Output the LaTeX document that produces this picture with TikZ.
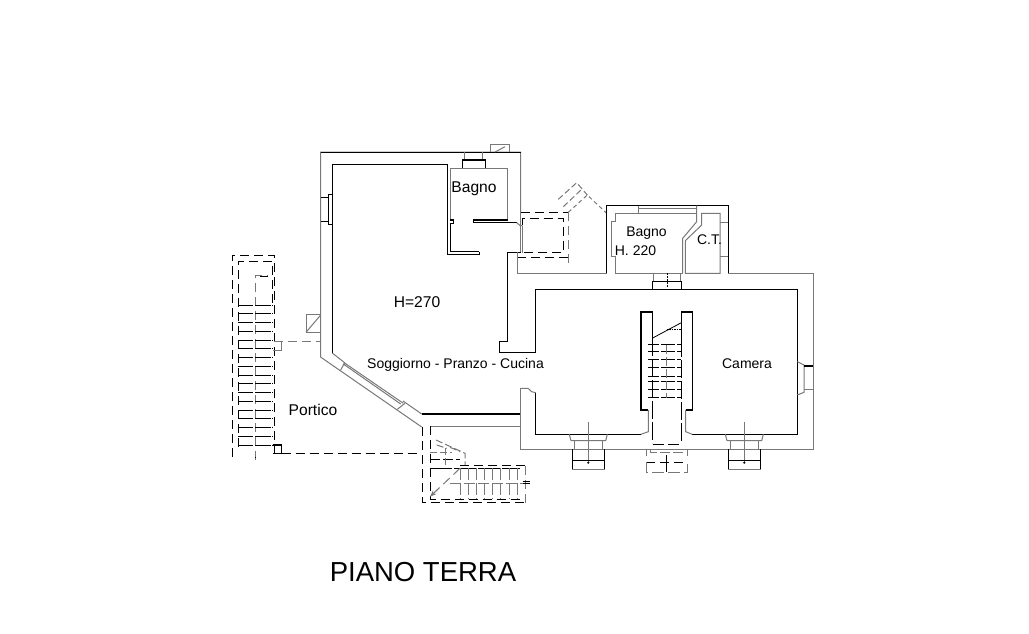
\documentclass[tikz,border=0pt]{standalone}
\usepackage{fontspec}
\setmainfont{Liberation Sans}
\usetikzlibrary{arrows.meta}
\definecolor{wallgray}{RGB}{120,120,120}
\tikzset{
  wallblack/.style={black, line width=1.25pt},
  wallthin/.style={wallgray, line width=1pt},
  hidden/.style={black, line width=0.9pt, dash pattern=on 9pt off 5pt},
  hiddenthin/.style={wallgray, line width=1pt, dash pattern=on 9pt off 5pt},
  roomlabel/.style={font=\fontsize{14}{16}\selectfont, black, inner sep=0pt},
  roomlarge/.style={font=\fontsize{15.6}{18}\selectfont, black, inner sep=0pt}
}
\begin{document}
\begin{tikzpicture}[x=1pt, y=-1pt, >=Stealth]
    \useasboundingbox (0,0) rectangle (1029,634);
    \fill[white] (0,0) rectangle (1029,634);

    % Outer wall, living room
    \draw[wallthin] (520.5,212) -- (520.5,152) -- (320.5,152) -- (320.5,357) -- (421.7,427);
    \draw[black, line width=1pt] (320.5,152) -- (520.5,152);

    % Inner wall, living room
    \draw[wallblack] (535.7,289.3) -- (535.7,352.7) -- (499.7,352.7) -- (499.7,341.7) -- (507.5,341.7) -- (507.5,252.3) -- (520.7,252.3);
    \draw[wallblack] (479.3,251.7) -- (479.3,254.3) -- (447.3,254.3) -- (447.3,164.3) -- (332.3,164.3) -- (332.3,353);
    \draw[wallthin] (332.3,353) -- (345,363);
    \draw[wallblack] (421.7,414) -- (520.3,414);
    \draw[wallthin] (403,401) -- (421.7,414);

    % Bagno, north
    \draw[wallthin] (507.7,220) -- (507.7,168.3) -- (450.3,168.3) -- (450.3,220);
    \draw[wallblack] (507.7,220) -- (473.3,220) -- (473.3,222.7) -- (516.7,222.7);
    \draw[wallthin] (516.7,222.7) -- (520,225.5) -- (522.3,225.5);
    \draw[wallblack] (450.3,220) -- (453.3,220) -- (453.3,223.3) -- (450.3,223.3) -- (450.3,251.7) -- (479.3,251.7);
    \draw[wallthin] (464.3,160) -- (464.3,152);
    \draw[wallthin] (482.7,160) -- (482.7,152);
    \draw[wallblack] (462.3,168.3) -- (462.3,160) -- (485.3,160) -- (485.3,168.3);
    \draw[wallthin] (490.3,152) -- (490.3,144.3) -- (509.7,144.3) -- (509.7,152);
    \draw[wallthin] (495,152) -- (505,146.7);

    % Window, west wall
    \draw[wallblack] (320.5,197.3) -- (328.3,197.3);
    \draw[wallblack] (320.5,221.7) -- (328.3,221.7);
    \draw[wallblack] (332.3,194.3) -- (328.3,194.3) -- (328.3,224.3) -- (332.3,224.3);

    % Diagonal window
    \draw[wallthin] (345,363) -- (344.7,365);
    \draw[wallthin] (340.7,370) -- (344.3,363.3);
    \draw[wallthin] (343.3,364) -- (400.7,404);
    \draw[wallthin] (345,363.3) -- (403.3,403.3);
    \draw[wallthin] (397.3,409.3) -- (405,403.3);

    % Shaft, west wall
    \draw[wallthin] (320.7,314.3) -- (306,314.3) -- (306,332.3) -- (320.7,332.3);
    \draw[wallthin] (306,332.3) -- (320.7,315);

    % Small porch, dashed
    \draw[hidden] (520.7,212.3) -- (568.3,212.3);
    \draw[hiddenthin] (568.3,212.3) -- (568.3,263);
    \draw[hidden] (522.3,225) -- (522.3,218.3) -- (563.3,218.3) -- (563.3,252.7) -- (522.3,252.7);
    \draw[hidden] (517.3,257.3) -- (568.3,257.3);
    \draw[wallthin] (522.3,225.5) -- (522.3,252.7);
    \draw[wallthin] (520.7,212.3) -- (520.7,252.3);

    % Steps, north east of the porch
    \draw[hiddenthin, dash pattern=on 4pt off 3pt] (568.3,212.3) -- (587.3,195) -- (606.7,213.3);
    \draw[hiddenthin, dash pattern=on 6pt off 3pt] (558.3,199.3) -- (576.7,182.7) -- (587.3,195);
    \draw[hiddenthin, dash pattern=on 6pt off 3pt] (563.3,206.7) -- (581.7,189.3);

    % North annex
    \draw[wallthin] (517.3,252.3) -- (517.3,273.3) -- (606.7,273.3);
    \draw[black, line width=1pt] (606.7,273.3) -- (606.7,205.7) -- (728.3,205.7) -- (728.3,273.3);
    \draw[wallthin] (728.3,273.3) -- (813.3,273.3) -- (813.3,449) -- (520.3,449) -- (520.3,388.3);
    \draw[wallthin] (638.3,205.7) -- (638.3,213.3);
    \draw[wallthin] (696.7,205.7) -- (696.7,221.7) -- (682.7,238.3) -- (682.7,273.3);
    \draw[wallthin] (638.3,208.3) -- (696.7,208.3);
    \draw[wallthin] (682.7,273.3) -- (615.3,273.3) -- (615.3,256.7) -- (611.7,256.7) -- (611.7,221.7) -- (615.3,221.7) -- (615.3,213.3) -- (696.7,213.3);
    \draw[wallthin] (701.7,213.3) -- (701.7,225) -- (685.3,240.7) -- (685.3,273.3) -- (720,273.3) -- (720,213.3) -- cycle;
    \draw[wallthin] (720,222.3) -- (728.3,222.3);
    \draw[wallthin] (720,256.7) -- (728.3,256.7);

    % Window between annex and room
    \draw[wallthin] (653.3,273.3) -- (653.3,281.7);
    \draw[wallthin] (680.7,273.3) -- (680.7,281.7);
    \draw[wallblack] (652.7,289.3) -- (652.7,281.7) -- (681.7,281.7) -- (681.7,289.3);
    \draw[black, line width=0.8pt, dash pattern=on 2pt off 1pt] (667.7,273.3) -- (667.7,288.3);

    % Camera
    \draw[wallblack] (535.7,289.3) -- (797.3,289.3) -- (797.3,434.3) -- (692.3,434.3);
    \draw[wallthin] (692.3,434.3) -- (685.7,431.7) -- (685.7,410);
    \draw[wallblack] (685.7,410) -- (692.3,410) -- (692.3,312) -- (681.3,312) -- (681.3,338);
    \draw[wallblack] (652.7,338) -- (652.7,312) -- (641,312) -- (641,410) -- (648.3,410);
    \draw[wallthin] (648.3,410) -- (648.3,431.7) -- (641,434.3);
    \draw[wallblack] (641,434.3) -- (535.7,434.3) -- (535.7,392.7);
    \draw[wallthin] (535.7,392.7) -- (531.7,391.7) -- (528,388.3) -- (520.3,388.3);
    \draw[wallthin] (520.3,426) -- (430,426);

    % Window, east wall
    \draw[wallthin] (797.3,361.7) -- (804,365) -- (804,392.3) -- (797.3,395);
    \draw[wallblack] (804,366) -- (813.3,366);
    \draw[wallthin] (804,389.3) -- (813.3,389.3);

    % South windows
    \foreach \dx in {0,156}{
        \draw[wallthin, shift={(\dx,0)}] (569.3,434.3) -- (571,440.7) -- (605.7,440.7) -- (607.3,434.3);
        \draw[wallthin, shift={(\dx,0)}] (574.3,440.7) -- (574.3,449);
        \draw[wallthin, shift={(\dx,0)}] (602.3,440.7) -- (602.3,449);
        \draw[wallthin, shift={(\dx,0)}] (588.3,422.3) -- (588.3,463);
        \draw[wallthin, shift={(\dx,0)}] (572.3,469.3) rectangle (604.3,449);
        \draw[black, line width=1pt, shift={(\dx,0)}] (572.3,449) -- (572.3,469.3);
        \draw[black, line width=1pt, shift={(\dx,0)}] (604.3,449) -- (604.3,469.3);
        \draw[black, line width=1pt, shift={(\dx,0)}] (572.3,460) -- (604.3,460);
        \fill[black, shift={(\dx,0)}] (588.3,462.7) circle (1.2pt);
    }

    % Inner stair, Camera
    \draw[black, line width=0.8pt] (652.7,338) -- (681.3,322.7);
    \draw[black, line width=0.8pt, dash pattern=on 1.5pt off 1pt] (666.7,329.3) -- (681.3,329.3);
    \foreach \ty in {344,351.7,359.3,367.7,376,381,389.3,397.3}{
        \draw[hidden, dash pattern=on 11pt off 2pt on 14pt off 2pt] (648.3,\ty) -- (681.3,\ty);
    }
    \draw[wallblack, dash pattern=on 26pt off 3pt] (681.3,331) -- (681.3,360);
    \draw[hidden, dash pattern=on 18pt off 3pt] (681.3,360) -- (681.3,443);
    \draw[hidden, dash pattern=on 18pt off 3pt] (652.7,338) -- (652.7,443);
    \draw[hiddenthin, dash pattern=on 9pt off 3pt] (666.7,345) -- (666.7,398);
    \draw[hidden, dash pattern=on 11pt off 4pt] (652.7,444.7) -- (681.3,444.7);
    \draw[hiddenthin, dash pattern=on 10pt off 3pt] (650,449) -- (650,452) -- (683.3,452) -- (683.3,449);
    \draw[hiddenthin, dash pattern=on 6pt off 3pt] (646.3,450) -- (646.3,457);
    \draw[hiddenthin, dash pattern=on 6pt off 3pt] (687.7,450) -- (687.7,457);
    \draw[hidden] (646.3,462.3) -- (687.7,462.3);
    \draw[hiddenthin, dash pattern=on 12pt off 4pt] (646.3,462.3) -- (646.3,472.3) -- (687.7,472.3) -- (687.7,462.3);
    \draw[black, line width=0.8pt] (666.7,455) -- (666.7,472.3);

    % Left stair
    \draw[hidden] (232.3,457) -- (232.3,255) -- (274.3,255) -- (274.3,453);
    \draw[hidden] (238.3,446.7) -- (238.3,261.7) -- (272.7,261.7) -- (272.7,305);
    \draw[hiddenthin] (255.7,460) -- (255.7,275.7) -- (267.7,275.7);
    \draw[wallblack] (260,276.7) -- (267.7,276.7);
    \foreach \ty in {305,313.7,322.5,331.2,340,348.7,357.5,366.2,375,383.7,392.5,401.2,410,418.7,427.5,436.2,445}{
        \draw[hidden, dash pattern=on 15pt off 2pt on 16pt off 1pt] (238.3,\ty) -- (272.7,\ty);
    }
    \draw[hidden, dash pattern=on 1pt off 1.5pt] (255.7,457) -- (255.7,458);

    % Portico
    \draw[hiddenthin] (274.3,341) -- (320.7,341);
    \draw[wallthin] (274.3,341) -- (281.7,341) -- (281.7,350) -- (273.3,350);
    \draw[wallblack] (272.7,445) -- (281.7,445) -- (281.7,453.3);
    \draw[wallblack] (272.7,453.3) -- (281.7,453.3);
    \draw[hidden] (281.7,453.3) -- (416.7,453.3);

    % South stair
    \draw[hidden] (422.3,427) -- (422.3,502.7) -- (525,502.7);
    \draw[hiddenthin] (525,502.7) -- (525,465);
    \draw[hidden] (460,465) -- (525,465);
    \draw[hidden] (430,426) -- (430,499.3) -- (521.7,499.3);
    \draw[hidden, dash pattern=on 22pt off 2pt] (430,468.3) -- (520,468.3);
    \draw[hidden, dash pattern=on 10pt off 3pt] (430,459.3) -- (460,459.3);
    \draw[hiddenthin] (460,468.3) -- (430,496.7);
    \draw[->, wallgray, line width=0.8pt] (437,490) -- (430,496.7);
    \foreach \tx in {460,468.3,476,484,492.3,500.7,509,517.3}{
        \draw[hiddenthin, dash pattern=on 12pt off 3pt] (\tx,468.3) -- (\tx,499.3);
    }
    \draw[hiddenthin, dash pattern=on 11pt off 3pt] (450,483.3) -- (523,483.3);
    \draw[black, line width=1pt] (523,481.7) -- (530,481.7);
    \draw[black, line width=1pt] (523,483.3) -- (530,483.3);
    \draw[hiddenthin, dash pattern=on 7pt off 3pt] (436,440) -- (465,453.3) -- (465,465);
    \draw[hiddenthin, dash pattern=on 7pt off 3pt] (436.7,445) -- (446.7,448.3);
    \draw[hiddenthin, dash pattern=on 7pt off 3pt] (450,447.3) -- (460,451.7);
    \draw[hiddenthin, dash pattern=on 7pt off 3pt] (445,448.3) -- (445,467);
    \draw[hiddenthin, dash pattern=on 7pt off 3pt] (430,452.7) -- (452,452.7);

    % Labels
    \node[roomlarge] (bagnonord) at (474,189) {Bagno};
    \node[roomlarge] (altezza) at (417,302.5) {H=270};
    \node[roomlabel] (soggiorno) at (455.5,365) {Soggiorno - Pranzo - Cucina};
    \node[roomlarge] (portico) at (313,410) {Portico};
    \node[roomlabel] (bagnoest) at (646.5,233) {Bagno};
    \node[roomlabel] (altezzabagno) at (635.5,250.5) {H. 220};
    \node[roomlabel] (centrale) at (709.5,240) {C.T.};
    \node[roomlabel] (camera) at (747,364) {Camera};
    \node[font=\fontsize{27.5}{30}\selectfont, inner sep=0pt] (titolo) at (423,572) {PIANO TERRA};
\end{tikzpicture}
\end{document}
